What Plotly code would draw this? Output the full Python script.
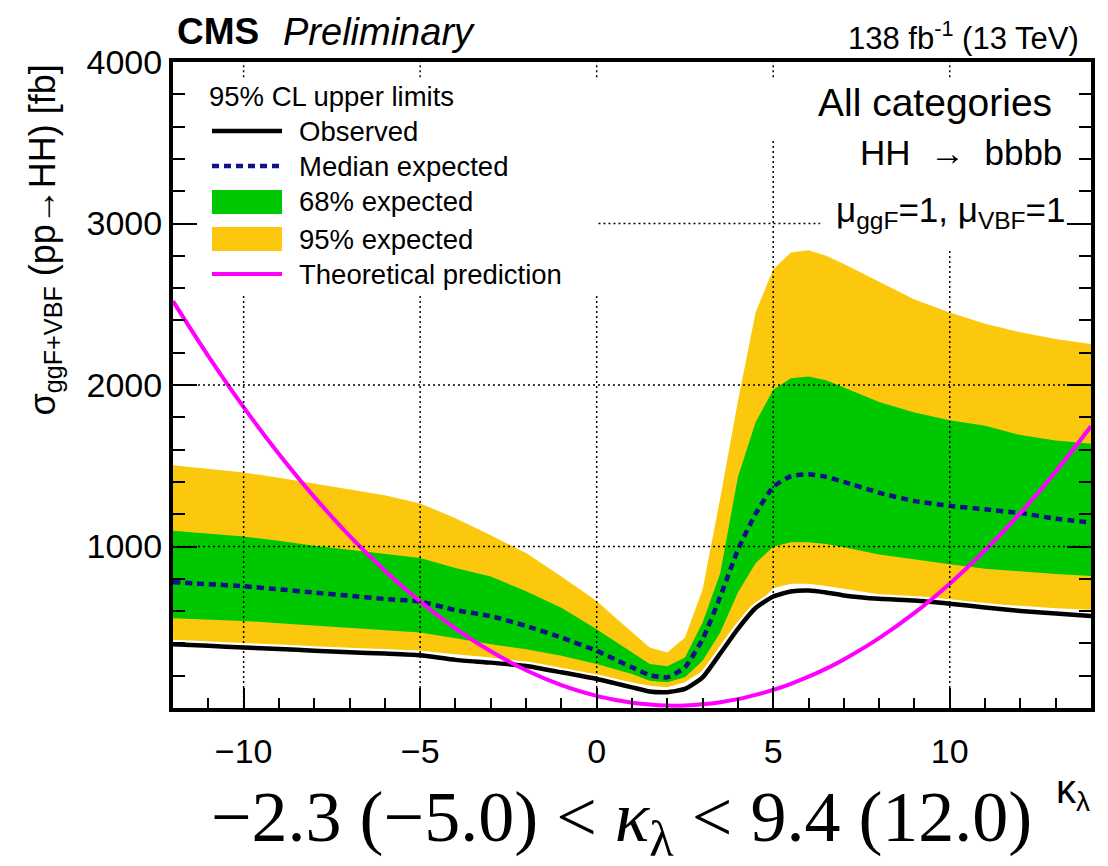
import plotly.graph_objects as go

# kappa_lambda scan points
kl = [-12, -11, -10, -9, -8, -7, -6, -5, -4, -3, -2, -1, 0, 0.5, 1, 1.5, 2, 2.5,
      3, 3.5, 4, 4.5, 5, 5.5, 6, 6.5, 7, 8, 9, 10, 11, 12, 13, 14]

# 95% CL upper limits on sigma(ggF+VBF -> HH) [fb]
exp95_up = [1503, 1480, 1458, 1425, 1390, 1355, 1318, 1267, 1175, 1070, 959, 815, 662, 565, 467, 375, 344, 436,
            733, 1300, 1900, 2449, 2717, 2820, 2834, 2800, 2750, 2640, 2530, 2449, 2380, 2326, 2285, 2254]
exp68_up = [1098, 1080, 1062, 1035, 1005, 980, 955, 929, 867, 815, 723, 621, 487, 415, 344, 272, 258, 313,
            529, 836, 1431, 1770, 1970, 2042, 2052, 2030, 1985, 1895, 1830, 1781, 1748, 1690, 1657, 1636]
exp_median = [779, 767, 754, 735, 715, 695, 675, 659, 606, 569, 508, 436, 354, 303, 252, 204, 190, 252,
              426, 690, 980, 1202, 1369, 1435, 1448, 1431, 1400, 1333, 1281, 1252, 1230, 1207, 1172, 1148]
exp68_lo = [555, 547, 539, 525, 510, 497, 483, 467, 432, 395, 364, 323, 272, 241, 210, 169, 159, 190,
            292, 467, 715, 896, 999, 1026, 1026, 1015, 995, 950, 918, 890, 862, 844, 830, 818]
exp95_lo = [412, 404, 395, 385, 375, 367, 360, 354, 333, 313, 282, 241, 200, 180, 159, 138, 128, 159,
            231, 364, 498, 628, 742, 769, 769, 756, 738, 704, 682, 662, 645, 633, 618, 608]
observed = [395, 385, 375, 365, 355, 345, 337, 327, 298, 281, 260, 221, 180, 154, 128, 102, 98, 118,
            190, 338, 490, 619, 690, 721, 727, 715, 697, 676, 666, 646, 622, 601, 585, 570]
theory = [2519, 2179, 1863, 1573, 1307, 1066, 850, 659, 492, 351, 234, 142, 75, 51, 33, 21, 15, 16,
          23, 36, 55, 81, 112, 150, 194, 244, 301, 433, 589, 770, 976, 1207, 1463, 1744]

x_ticks = [-10, -5, 0, 5, 10]
y_ticks = [1000, 2000, 3000, 4000]

YELLOW = "#fcc80d"
GREEN = "#00c800"
NAVY = "#10108a"
MAGENTA = "#ff00ff"
SANS = "Liberation Sans, Arial, sans-serif"
SERIF = "Liberation Serif, Times New Roman, serif"
NB = "\u00a0"

W, H = 1108, 866
ML, MR, MT, MB = 173, 17, 62, 158
PW, PH = W - ML - MR, H - MT - MB


def px_x(p):
    return (p - ML) / PW


def px_y(p):
    return (H - MB - p) / PH


fig = go.Figure()

# 95% band
fig.add_trace(go.Scatter(x=kl, y=exp95_lo, mode="lines", line=dict(width=0), showlegend=False, hoverinfo="skip"))
fig.add_trace(go.Scatter(x=kl, y=exp95_up, mode="lines", line=dict(width=0), fill="tonexty",
                         fillcolor=YELLOW, showlegend=False, name="95% expected"))
# 68% band
fig.add_trace(go.Scatter(x=kl, y=exp68_lo, mode="lines", line=dict(width=0), showlegend=False, hoverinfo="skip"))
fig.add_trace(go.Scatter(x=kl, y=exp68_up, mode="lines", line=dict(width=0), fill="tonexty",
                         fillcolor=GREEN, showlegend=False, name="68% expected"))
# median expected
fig.add_trace(go.Scatter(x=kl, y=exp_median, mode="lines", showlegend=False, name="Median expected",
                         line=dict(color=NAVY, width=4.5, dash="7px,5px", shape="spline", smoothing=0.5)))
# observed, with a thin white halo
fig.add_trace(go.Scatter(x=kl, y=observed, mode="lines", showlegend=False, hoverinfo="skip",
                         line=dict(color="white", width=9, shape="spline", smoothing=0.5)))
fig.add_trace(go.Scatter(x=kl, y=observed, mode="lines", showlegend=False, name="Observed",
                         line=dict(color="black", width=4.5, shape="spline", smoothing=0.5)))
# theory
fig.add_trace(go.Scatter(x=kl, y=theory, mode="lines", showlegend=False, name="Theoretical prediction",
                         line=dict(color=MAGENTA, width=4, shape="spline", smoothing=0.8)))

shapes = []
grid = dict(color="black", width=1.5, dash="2px,3px")
# vertical grid segments (interrupted by the text boxes)
v_grid_breaks = {-10: 2560, -5: 2560, 0: 2560, 5: 3517, 10: 2836}
for xv in x_ticks:
    shapes.append(dict(type="line", xref="x", yref="y", x0=xv, x1=xv, y0=0, y1=v_grid_breaks[xv],
                       line=grid, layer="above"))
    shapes.append(dict(type="line", xref="x", yref="y", x0=xv, x1=xv, y0=3905, y1=4000,
                       line=grid, layer="above"))
# horizontal grid
for yv, (xa, xb) in {1000: (-12, 14), 2000: (-12, 14), 3000: (0.05, 6.33)}.items():
    shapes.append(dict(type="line", xref="x", yref="y", x0=xa, x1=xb, y0=yv, y1=yv, line=grid, layer="above"))

# legend symbols
sx0, sx1 = px_x(212), px_x(282)
rows = [131, 166, 202, 239, 274]
shapes.append(dict(type="line", xref="paper", yref="paper", x0=sx0, x1=sx1, y0=px_y(rows[0]), y1=px_y(rows[0]),
                   line=dict(color="black", width=4.5)))
shapes.append(dict(type="line", xref="paper", yref="paper", x0=sx0, x1=sx1, y0=px_y(rows[1]), y1=px_y(rows[1]),
                   line=dict(color=NAVY, width=4.5, dash="7px,5px")))
shapes.append(dict(type="rect", xref="paper", yref="paper", x0=sx0, x1=sx1, y0=px_y(rows[2] + 12),
                   y1=px_y(rows[2] - 12), line=dict(width=0), fillcolor=GREEN))
shapes.append(dict(type="rect", xref="paper", yref="paper", x0=sx0, x1=sx1, y0=px_y(rows[3] + 12),
                   y1=px_y(rows[3] - 12), line=dict(width=0), fillcolor=YELLOW))
shapes.append(dict(type="line", xref="paper", yref="paper", x0=sx0, x1=sx1, y0=px_y(rows[4]), y1=px_y(rows[4]),
                   line=dict(color=MAGENTA, width=4)))

annotations = []


def text(t, x, y, size, xanchor="left", yanchor="middle", family=SANS, **kw):
    annotations.append(dict(text=t, x=px_x(x), y=px_y(y), xref="paper", yref="paper", showarrow=False,
                            xanchor=xanchor, yanchor=yanchor, font=dict(size=size, family=family, color="black"),
                            **kw))


text("95% CL upper limits", 207, 97, 27.5)
for r, lab in zip(rows, ["Observed", "Median expected", "68% expected", "95% expected", "Theoretical prediction"]):
    text(lab, 297, r, 27.5)

text("<b>CMS</b>", 175, 32, 37)
text("<i>Preliminary</i>", 281, 32, 38)
text("138 fb<sup>-1</sup> (13 TeV)", 1081, 36, 31, xanchor="right")
text("All categories", 1054, 103, 39, xanchor="right")
text("HH" + NB + " → " + NB + "bbbb", 1064, 152, 35, xanchor="right")
text("μ<sub>ggF</sub>=1, μ<sub>VBF</sub>=1", 1067, 212, 35, xanchor="right")
text("κ<sub>λ</sub>", 1092, 792, 40, xanchor="right")
text("σ<sub>ggF+VBF</sub> (pp→HH) [fb]", 44, 63, 36, xanchor="center", yanchor="top", textangle=-90)
text("−2.3 (−5.0) &lt; <i>κ</i><sub>λ</sub> &lt; 9.4 (12.0)", 621, 822, 72, xanchor="center", family=SERIF)

fig.update_layout(
    width=W, height=H,
    margin=dict(l=ML, r=MR, t=MT, b=MB, pad=0),
    plot_bgcolor="white", paper_bgcolor="white",
    showlegend=False,
    shapes=shapes, annotations=annotations,
    font=dict(family=SANS, color="black"),
    xaxis=dict(range=[-12, 14], tickvals=x_ticks, ticks="inside", ticklen=20, tickwidth=2, tickcolor="black",
               minor=dict(dtick=1, tick0=0, ticks="inside", ticklen=10, tickwidth=2, tickcolor="black"),
               showline=True, linewidth=4, linecolor="black", mirror=True, showgrid=False, zeroline=False,
               tickfont=dict(size=34, family=SANS), ticklabelstandoff=10),
    yaxis=dict(range=[0, 4000], tickvals=y_ticks, tickformat="d", ticks="inside", ticklen=24, tickwidth=2,
               tickcolor="black",
               minor=dict(dtick=200, tick0=0, ticks="inside", ticklen=12, tickwidth=2, tickcolor="black"),
               showline=True, linewidth=4, linecolor="black", mirror="allticks", showgrid=False, zeroline=False,
               tickfont=dict(size=34, family=SANS)),
)

fig.write_html("out.html")
